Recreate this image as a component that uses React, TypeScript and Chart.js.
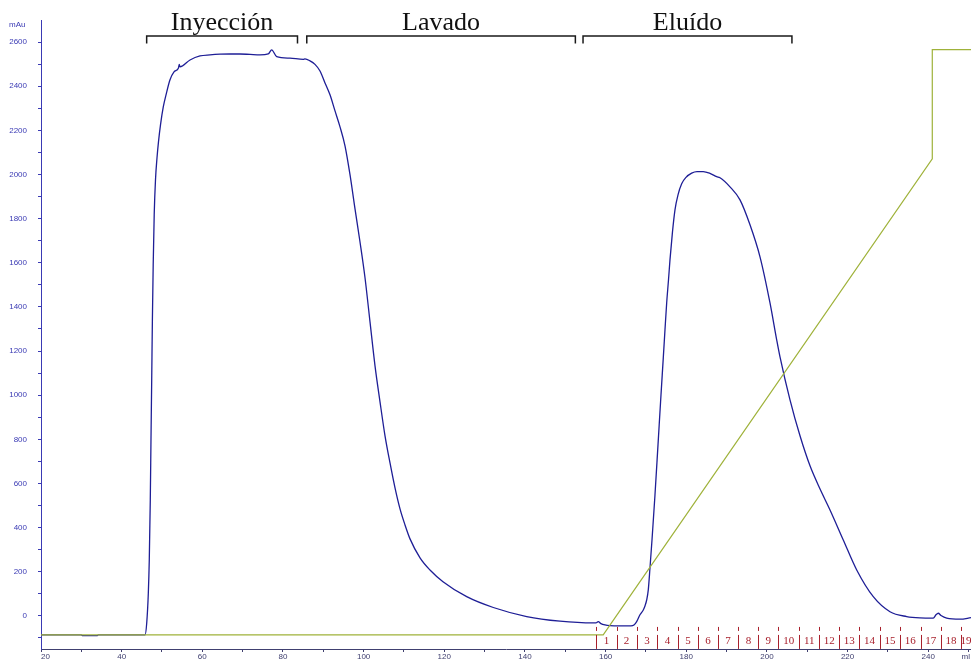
import React, { useEffect, useRef } from 'react';
import { Chart, registerables } from 'chart.js';

Chart.register(...registerables);

// UV absorbance trace (mAu) vs eluted volume (ml)
const uvVolume = [
  20, 30, 30.2, 34, 34.2, 45.8,
  46.21, 46.61, 46.85, 47.10, 47.27, 47.45, 47.62, 47.82, 48.07, 48.39, 48.76, 49.13, 49.63,
  50.32, 51.12, 51.99, 52.98, 54.09, 54.29, 54.47, 56.95, 59.42, 61.90, 64.38, 66.86, 69.34,
  71.82, 74.30, 76.36, 77.20, 78.44, 81.74, 85.04,
  85.46, 86.70, 87.94, 89.18, 90.42, 91.66, 92.90, 94.14, 95.38, 96.62, 97.86, 99.10, 100.34,
  101.58, 102.82, 104.06, 105.30, 106.54, 107.78, 109.02, 110.26, 111.50, 113.98, 116.45,
  119.68, 125.55, 132.15, 140.43, 148.69, 156.95,
  157.61, 158.18, 158.85, 159.84, 161.08, 163.56, 166.29, 167.03, 167.70, 168.52, 169.34,
  169.76, 170.18, 170.58, 171.00, 171.50, 172.24, 172.99, 173.73, 174.30, 174.72, 175.14, 175.59,
  175.96, 176.58, 177.20, 177.95, 178.86, 179.93, 181.34, 182.66, 184.22, 185.88, 187.54,
  188.36, 190.84, 193.32, 195.80, 198.28, 200.76, 202.42, 203.24, 205.72, 208.20, 210.68,
  213.17, 215.64, 218.93, 222.26, 226.37, 230.51, 234.65, 237.95, 241.25, 241.92, 242.49,
  243.16, 244.57, 247.87, 250.6,
];
const uvAbsorbance = [
  -86, -86, -89, -89, -86, -86,
  -33, 103, 254, 526, 797, 1069, 1341, 1590, 1817, 1976, 2075, 2148, 2225,
  2306, 2370, 2429, 2465, 2483, 2499, 2488, 2519, 2537, 2542, 2545, 2546, 2546,
  2544, 2542, 2546, 2565, 2534, 2527, 2522,
  2524, 2515, 2499, 2469, 2415, 2361, 2288, 2216, 2130, 1999, 1844, 1694, 1532,
  1332, 1133, 970, 816, 693, 580, 485, 412, 349, 263, 208,
  155, 87, 38, -3, -24, -32,
  -32, -26, -35, -41, -44, -45, -45, -41, -26, 5, 27,
  45, 72, 118, 217, 344, 548, 775, 1001, 1169, 1296, 1418, 1522,
  1613, 1740, 1840, 1908, 1958, 1987, 2006, 2013, 2013, 2005, 1990,
  1985, 1944, 1885, 1772, 1627, 1418, 1251, 1174, 979, 816, 680,
  575, 480, 344, 208, 87, 19, -3, -9, -10, 5, 12,
  2, -10, -15, -8,
];

// Gradient trace
const gradVolume = [20, 159.4, 241.0, 241.0, 250.6];
const gradValue = [-86, -86, 2071, 2566, 2566];

// Fraction collector marks
const fractionStarts = [
  157.7, 162.7, 167.7, 172.8, 177.9, 183.0, 187.8, 192.9, 197.9, 202.8,
  208.0, 213.0, 217.9, 222.9, 228.0, 233.0, 238.1, 243.2, 248.1,
];
const fractionLabels = [
  '1', '2', '3', '4', '5', '6', '7', '8', '9', '10',
  '11', '12', '13', '14', '15', '16', '17', '18', '19',
];

// Phases
const phaseLabels = ['Inyección', 'Lavado', 'Eluído'];
const phaseStart = [46.2, 85.9, 154.4];
const phaseEnd = [83.6, 152.5, 206.2];

// Axes
const X_MIN = 20;
const X_MAX = 250.6;
const Y_MIN = -150;
const Y_MAX = 2700;
const xMajorTicks = [20, 40, 60, 80, 100, 120, 140, 160, 180, 200, 220, 240];
const xMinorTicks = [30, 50, 70, 90, 110, 130, 150, 170, 190, 210, 230, 250];
const yMajorTicks = [0, 200, 400, 600, 800, 1000, 1200, 1400, 1600, 1800, 2000, 2200, 2400, 2600];
const yMinorTicks = [-100, 100, 300, 500, 700, 900, 1100, 1300, 1500, 1700, 1900, 2100, 2300, 2500];

const BLUE_AXIS = '#3a3ab4';
const X_AXIS = '#404070';
const RED = '#a8202c';

const overlayPlugin = {
  id: 'overlay',
  afterDraw(chart: any) {
    const ctx = chart.ctx as CanvasRenderingContext2D;
    const xs = chart.scales.x;
    const ys = chart.scales.y;
    const area = chart.chartArea;
    ctx.save();

    // fraction marks
    ctx.strokeStyle = RED;
    ctx.lineWidth = 1;
    ctx.setLineDash([4, 4, 14]);
    const yTop = ys.getPixelForValue(-50);
    for (let i = 0; i < fractionStarts.length; i++) {
      const px = Math.round(xs.getPixelForValue(fractionStarts[i])) + 0.5;
      ctx.beginPath();
      ctx.moveTo(px, yTop);
      ctx.lineTo(px, area.bottom);
      ctx.stroke();
    }
    ctx.setLineDash([]);
    ctx.fillStyle = RED;
    ctx.font = '11px "Liberation Serif", serif';
    ctx.textAlign = 'center';
    ctx.textBaseline = 'middle';
    const yLab = ys.getPixelForValue(-112);
    for (let i = 0; i < fractionLabels.length; i++) {
      const a = fractionStarts[i];
      const b = i + 1 < fractionStarts.length ? fractionStarts[i + 1] : X_MAX;
      const px = xs.getPixelForValue((a + b) / 2);
      ctx.fillText(fractionLabels[i], px, yLab);
    }

    // phase brackets
    ctx.strokeStyle = '#1a1a1a';
    ctx.lineWidth = 1.5;
    ctx.fillStyle = '#111';
    ctx.font = '26px "Liberation Serif", "Times New Roman", serif';
    ctx.textAlign = 'center';
    ctx.textBaseline = 'alphabetic';
    const bY = area.top + 16;
    for (let i = 0; i < phaseLabels.length; i++) {
      const x1 = xs.getPixelForValue(phaseStart[i]);
      const x2 = xs.getPixelForValue(phaseEnd[i]);
      ctx.beginPath();
      ctx.moveTo(x1, bY + 7.5);
      ctx.lineTo(x1, bY);
      ctx.lineTo(x2, bY);
      ctx.lineTo(x2, bY + 7.5);
      ctx.stroke();
      ctx.fillText(phaseLabels[i], (x1 + x2) / 2, area.top + 10);
    }

    // axis units
    ctx.font = '8px "Liberation Sans", Arial, sans-serif';
    ctx.fillStyle = BLUE_AXIS;
    ctx.textAlign = 'left';
    ctx.textBaseline = 'middle';
    ctx.fillText('mAu', area.left - 32, area.top + 5);
    ctx.fillStyle = X_AXIS;
    ctx.textAlign = 'right';
    ctx.fillText('ml', area.right - 1, area.bottom + 8);
    ctx.restore();
  },
};

export default function App() {
  const ref = useRef<HTMLCanvasElement | null>(null);

  useEffect(() => {
    if (!ref.current) return;
    const uvData = uvVolume.map((v, i) => ({ x: v, y: uvAbsorbance[i] }));
    const gradData = gradVolume.map((v, i) => ({ x: v, y: gradValue[i] }));
    const chart = new Chart(ref.current, {
      type: 'line',
      data: {
        datasets: [
          {
            data: gradData,
            borderColor: '#9fb23a',
            borderWidth: 1.2,
            pointRadius: 0,
            tension: 0,
            fill: false,
          },
          {
            data: uvData,
            borderColor: '#1e1e96',
            borderWidth: 1.3,
            pointRadius: 0,
            cubicInterpolationMode: 'monotone',
            fill: false,
          },
        ],
      },
      options: {
        responsive: false,
        maintainAspectRatio: false,
        animation: false,
        devicePixelRatio: 1,
        layout: { padding: { top: 20, left: 0, right: 0, bottom: 0 } },
        plugins: { legend: { display: false }, tooltip: { enabled: false } },
        scales: {
          x: {
            type: 'linear',
            min: X_MIN,
            max: X_MAX,
            afterBuildTicks: (s: any) => {
              s.ticks = [...xMajorTicks, ...xMinorTicks]
                .sort((a, b) => a - b)
                .map((v) => ({ value: v }));
            },
            afterFit: (s: any) => {
              s.height = 12;
              s.paddingLeft = 0;
              s.paddingRight = 0;
            },
            ticks: {
              autoSkip: false,
              maxRotation: 0,
              align: 'inner',
              padding: 0,
              color: X_AXIS,
              font: { family: '"Liberation Sans", Arial, sans-serif', size: 8 },
              callback: (v: any) => (xMajorTicks.includes(Number(v)) ? String(v) : ''),
            },
            grid: { drawOnChartArea: false, drawTicks: true, tickLength: 3, color: X_AXIS },
            border: { color: X_AXIS, width: 1 },
          },
          y: {
            type: 'linear',
            min: Y_MIN,
            max: Y_MAX,
            afterBuildTicks: (s: any) => {
              s.ticks = [...yMajorTicks, ...yMinorTicks]
                .sort((a, b) => a - b)
                .map((v) => ({ value: v }));
            },
            afterFit: (s: any) => {
              s.width = 41;
              s.paddingTop = 0;
              s.paddingBottom = 0;
            },
            ticks: {
              autoSkip: false,
              padding: 11,
              color: BLUE_AXIS,
              font: { family: '"Liberation Sans", Arial, sans-serif', size: 8 },
              callback: (v: any) => (yMajorTicks.includes(Number(v)) ? String(v) : ''),
            },
            grid: { drawOnChartArea: false, drawTicks: true, tickLength: 3, color: BLUE_AXIS },
            border: { color: BLUE_AXIS, width: 1 },
          },
        },
      },
      plugins: [overlayPlugin],
    } as any);
    return () => chart.destroy();
  }, []);

  return (
    <div style={{ position: 'absolute', left: 0, top: 0, width: 971, height: 661, background: '#fff' }}>
      <canvas ref={ref} width={971} height={661} style={{ display: 'block', width: 971, height: 661 }} />
    </div>
  );
}
